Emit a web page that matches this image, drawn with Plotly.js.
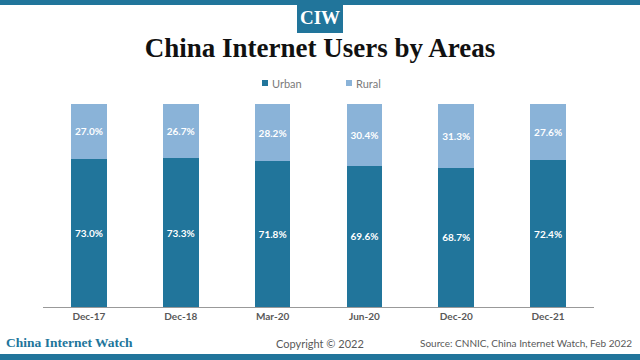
<!DOCTYPE html>
<html><head><meta charset="utf-8">
<script src="https://cdn.plot.ly/plotly-3.0.1.min.js"></script>
<style>html,body{margin:0;padding:0;background:#fff}#chart{width:640px;height:360px}</style>
</head><body><div id="chart"></div>
<script>
const categories = ['Dec-17','Dec-18','Mar-20','Jun-20','Dec-20','Dec-21'];
const urban = [73.0, 73.3, 71.8, 69.6, 68.7, 72.4];
const rural = [27.0, 26.7, 28.2, 30.4, 31.3, 27.6];
const seriesNames = ['Urban', 'Rural'];

const teal = '#21759b';
const light = '#8ab3d8';
const colors = [teal, light];

// pixel -> paper helpers (plot area x 43..594, y 104..307)
const px = v => (v - 43) / 551;
const py = v => (307 - v) / 203;

const common = {
  type: 'bar', x: categories,
  texttemplate: '%{y:.1f}%', textposition: 'inside', insidetextanchor: 'middle',
  textangle: 0, constraintext: 'none',
  textfont: {family: 'Lato, sans-serif', size: 10, color: '#ffffff', weight: 'bold'},
  hoverinfo: 'none', showlegend: false
};
const data = [
  Object.assign({}, common, {name: seriesNames[0], y: urban, marker: {color: colors[0]}}),
  Object.assign({}, common, {name: seriesNames[1], y: rural, marker: {color: colors[1]}})
];

const legendX = [262, 346];
const shapes = [
  {type: 'rect', xref: 'paper', yref: 'paper', x0: -1, x1: 2, y0: py(5), y1: 2, fillcolor: teal, line: {width: 0}},
  {type: 'rect', xref: 'paper', yref: 'paper', x0: px(297), x1: px(343), y0: py(33), y1: 2, fillcolor: teal, line: {width: 0}},
  {type: 'rect', xref: 'paper', yref: 'paper', x0: -1, x1: 2, y0: -1, y1: py(354), fillcolor: teal, line: {width: 0}}
];
const annotations = [
  {text: '<b>CIW</b>', xref: 'paper', yref: 'paper', x: px(320), y: py(17),
    showarrow: false, xanchor: 'center', yanchor: 'middle',
    font: {family: 'Liberation Serif, serif', size: 19, color: '#fff'}},
  {text: '<b>China Internet Watch</b>', xref: 'paper', yref: 'paper', x: px(4), y: py(342),
    showarrow: false, xanchor: 'left', yanchor: 'middle',
    font: {family: 'Liberation Serif, serif', size: 13.5, color: teal}},
  {text: 'Copyright © 2022', xref: 'paper', yref: 'paper', x: px(320), y: py(343),
    showarrow: false, xanchor: 'center', yanchor: 'middle',
    font: {family: 'Lato, sans-serif', size: 11, color: '#595959'}},
  {text: 'Source: CNNIC, China Internet Watch, Feb 2022', xref: 'paper', yref: 'paper', x: px(634), y: py(343),
    showarrow: false, xanchor: 'right', yanchor: 'middle',
    font: {family: 'Lato, sans-serif', size: 10, color: '#595959'}}
];
seriesNames.forEach((n, i) => {
  shapes.push({type: 'rect', xref: 'paper', yref: 'paper', x0: px(legendX[i]), x1: px(legendX[i] + 6),
    y0: py(86), y1: py(80), fillcolor: colors[i], line: {width: 0}});
  annotations.push({text: n, xref: 'paper', yref: 'paper', x: px(legendX[i] + 8), y: py(83.5),
    showarrow: false, xanchor: 'left', yanchor: 'middle',
    font: {family: 'Lato, sans-serif', size: 11, color: '#7a7a7a'}});
});

const layout = {
  width: 640, height: 360,
  margin: {l: 43, r: 46, t: 104, b: 53},
  barmode: 'stack', bargap: 0.61,
  paper_bgcolor: '#fff', plot_bgcolor: '#fff',
  showlegend: false,
  title: {text: '<b>China Internet Users by Areas</b>', x: 0.5, xanchor: 'center',
    y: 1 - 48/360, yanchor: 'middle', yref: 'container',
    font: {family: 'Liberation Serif, serif', size: 27, color: '#111'}},
  xaxis: {showline: true, linecolor: '#999', linewidth: 1, ticks: '', showgrid: false,
    tickfont: {family: 'Lato, sans-serif', size: 10, color: '#595959', weight: 'bold'}},
  yaxis: {range: [0, 100], showgrid: false, zeroline: false, showticklabels: false, ticks: ''},
  shapes: shapes,
  annotations: annotations
};
Plotly.newPlot('chart', data, layout, {staticPlot: true, displayModeBar: false});
</script></body></html>
